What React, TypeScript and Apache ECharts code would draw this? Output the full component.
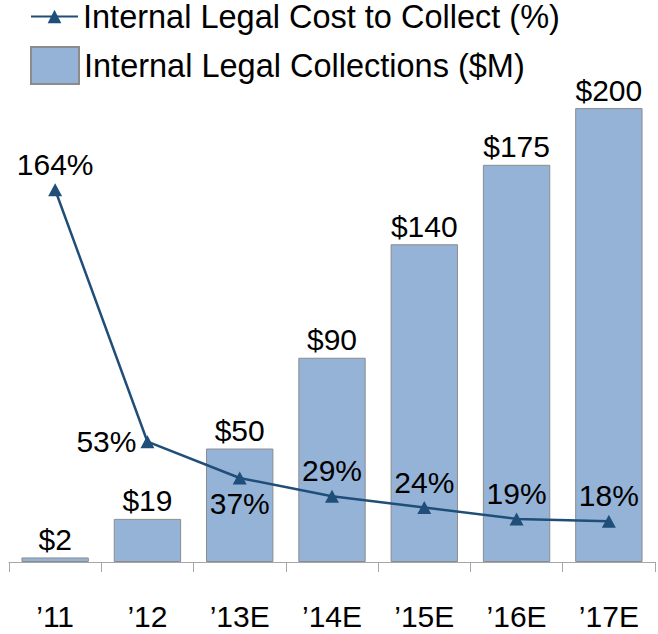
import React, { useEffect, useRef } from "react";
import * as echarts from "echarts";

const categories = ["’11", "’12", "’13E", "’14E", "’15E", "’16E", "’17E"];
const collections = [2, 19, 50, 90, 140, 175, 200];
const costPct = [164, 53, 37, 29, 24, 19, 18];
const costLabelPos = ["top", "left", "bottom", "top", "top", "top", "top"];

const FONT = "Liberation Sans, Arial, sans-serif";

export default function App() {
  const ref = useRef<HTMLDivElement>(null);
  useEffect(() => {
    document.body.style.margin = "0";
    if (!ref.current) return;
    const chart = echarts.init(ref.current, null, { renderer: "svg" });
    chart.setOption({
      animation: false,
      textStyle: { fontFamily: FONT },
      legend: [
        {
          data: ["Internal Legal Cost to Collect (%)"],
          left: 25,
          top: -5,
          orient: "vertical",
          itemWidth: 47,
          itemHeight: 17,
          textStyle: { fontSize: 32.5, color: "#000", fontFamily: FONT },
        },
        {
          data: [{ name: "Internal Legal Collections ($M)", icon: "rect" }],
          left: 25,
          top: 41,
          orient: "vertical",
          itemWidth: 48,
          itemHeight: 37,
          textStyle: { fontSize: 32.5, color: "#000", fontFamily: FONT },
        },
      ],
      grid: { left: 9, right: 3, top: 99, bottom: 72, containLabel: false },
      xAxis: {
        type: "category",
        data: categories,
        axisLine: { lineStyle: { color: "#a6a6a6", width: 1 } },
        axisTick: { show: true, length: 10, lineStyle: { color: "#a6a6a6" } },
        axisLabel: { fontSize: 30, color: "#000", margin: 39, fontFamily: FONT },
      },
      yAxis: { type: "value", min: 0, max: 204, show: false, splitLine: { show: false } },
      series: [
        {
          name: "Internal Legal Collections ($M)",
          type: "bar",
          data: collections,
          barCategoryGap: "27%",
          itemStyle: { color: "#95b3d7", borderColor: "#8c8c8c", borderWidth: 1 },
          label: {
            show: true,
            position: "top",
            distance: 3,
            fontSize: 30,
            color: "#000",
            fontFamily: FONT,
            formatter: (p: any) => "$" + p.value,
          },
          z: 2,
        },
        {
          name: "Internal Legal Cost to Collect (%)",
          type: "line",
          data: costPct.map((v, i) => ({
            value: v,
            label: { position: costLabelPos[i] },
          })),
          symbol: "triangle",
          symbolSize: [14, 13],
          lineStyle: { color: "#1f4e79", width: 2.5 },
          itemStyle: { color: "#1f4e79" },
          label: {
            show: true,
            fontSize: 30,
            color: "#000",
            fontFamily: FONT,
            distance: 4,
            formatter: (p: any) => p.value + "%",
          },
          z: 5,
        },
      ],
    });
    return () => chart.dispose();
  }, []);
  return <div ref={ref} style={{ width: 658, height: 634 }} />;
}
